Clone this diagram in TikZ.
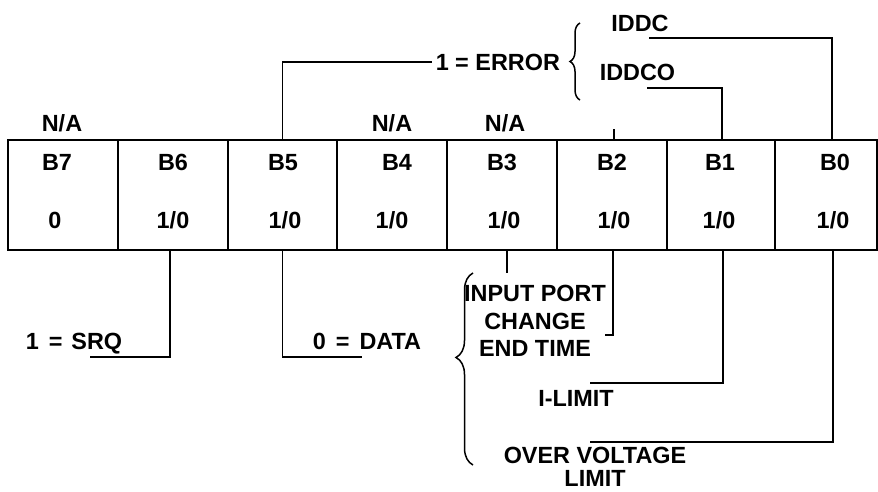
\documentclass[tikz,border=0pt]{standalone}
\usepackage{fontspec}
\setmainfont{Liberation Sans}
\usetikzlibrary{decorations.pathreplacing}
\begin{document}
\begin{tikzpicture}[x=1pt,y=-1pt,
  line width=1.5pt,
  lbl/.style={font=\fontsize{23.4}{27.5}\selectfont\bfseries, inner sep=0pt, text height=17pt, text depth=0pt},
  ml/.style={font=\fontsize{23.4}{27.5}\selectfont\bfseries, inner sep=0pt, align=center},
  cell/.style={draw, rectangle, minimum height=110pt, inner sep=0pt, line width=1.5pt},
  conn/.style={line width=1.5pt},
  brc/.style={decorate, line width=1.5pt}]
\useasboundingbox (0,0) rectangle (878,491);

% register cells
\node[cell, minimum width=110pt] (c7) at (63,195) {};
\node[cell, minimum width=110pt] (c6) at (173,195) {};
\node[cell, minimum width=109pt] (c5) at (282.5,195) {};
\node[cell, minimum width=110pt] (c4) at (392,195) {};
\node[cell, minimum width=110pt] (c3) at (502,195) {};
\node[cell, minimum width=110pt] (c2) at (612,195) {};
\node[cell, minimum width=108pt] (c1) at (721,195) {};
\node[cell, minimum width=102pt] (c0) at (826,195) {};

% bit names
\node[lbl] (b7) at (57,162) {B7};
\node[lbl] (b6) at (173,162) {B6};
\node[lbl] (b5) at (283,162) {B5};
\node[lbl] (b4) at (397,162) {B4};
\node[lbl] (b3) at (502,162) {B3};
\node[lbl] (b2) at (612,162) {B2};
\node[lbl] (b1) at (720,162) {B1};
\node[lbl] (b0) at (835,162) {B0};

% values
\node[lbl] (v7) at (55,220) {0};
\node[lbl] (v6) at (173,220) {1/0};
\node[lbl] (v5) at (285,220) {1/0};
\node[lbl] (v4) at (392,220) {1/0};
\node[lbl] (v3) at (504,220) {1/0};
\node[lbl] (v2) at (614,220) {1/0};
\node[lbl] (v1) at (719,220) {1/0};
\node[lbl] (v0) at (833,220) {1/0};

% N/A labels
\node[lbl] (na7) at (62,123) {N/A};
\node[lbl] (na4) at (392,123) {N/A};
\node[lbl] (na3) at (505,123) {N/A};

% top labels
\node[lbl, anchor=west, inner xsep=3pt] (err) at (432,62) {1 = ERROR};
\node[lbl] (iddc) at (640,23) {IDDC};
\node[lbl] (iddco) at (637.5,72) {IDDCO};
\draw[brc, decoration={brace, amplitude=10pt}] (580,100) -- (580,23);

\coordinate (k0) at (649,38);
\coordinate (k1) at (647,88);
\draw[conn] (c5.north) |- (err.west);
\draw[conn] ([xshift=6pt]c0.north) |- (k0);
\draw[conn] ([xshift=1pt]c1.north) |- (k1);
\draw[conn] ([xshift=2pt]c2.north) -- ++(0,-10);

% bottom labels
\node[lbl] (srq) at (74,341) {1\hspace{10pt}=\hspace{9pt}SRQ};
\node[lbl] (data) at (367,341) {0\hspace{10pt}=\hspace{10pt}DATA};
\node[ml, anchor=north] (inp) at (535,284.5) {INPUT PORT\\CHANGE\\END TIME};
\node[lbl] (ilim) at (576,398) {I-LIMIT};
\node[ml, anchor=north, font=\fontsize{23.4}{23}\selectfont\bfseries] (ovl) at (595,446) {OVER VOLTAGE\\LIMIT};
\draw[brc, decoration={brace, amplitude=17pt, aspect=0.56}] (473,465) -- (473,273);

\coordinate (k6) at (90,357);
\coordinate (k5) at (362,357);
\coordinate (k3) at (507,273);
\coordinate (k2) at (605,335);
\coordinate (kb1) at (590,383);
\coordinate (kb0) at (590,442);
\draw[conn] ([xshift=-3pt]c6.south) |- (k6);
\draw[conn] (c5.south) |- (k5);
\draw[conn] (k3 |- c3.south) -- (k3);
\draw[conn] ([xshift=1pt]c2.south) |- (k2);
\draw[conn] ([xshift=2pt]c1.south) |- (kb1);
\draw[conn] ([xshift=7pt]c0.south) |- (kb0);
\end{tikzpicture}
\end{document}
